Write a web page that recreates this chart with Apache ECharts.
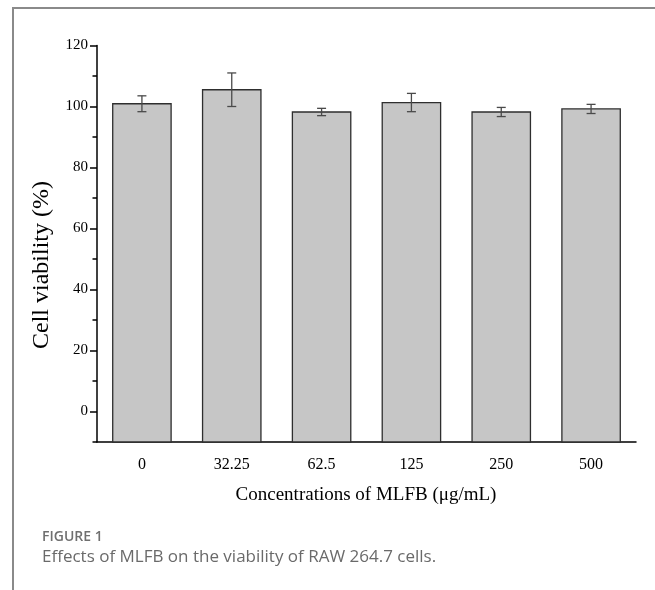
<!DOCTYPE html>
<html>
<head>
<meta charset="utf-8">
<script src="https://cdn.jsdelivr.net/npm/echarts@6/dist/echarts.min.js"></script>
<style>
  html, body { margin: 0; padding: 0; background: #fff; }
  #chart { width: 655px; height: 590px; }
</style>
</head>
<body>
<div id="chart"></div>
<script>
// data
const categories = ['0', '32.25', '62.5', '125', '250', '500'];
const viability = [100.9, 105.5, 98.2, 101.3, 98.2, 99.2];
const errors = [2.6, 5.5, 1.2, 3.0, 1.5, 1.5];
const yMin = -10, yMax = 120, yLabelStep = 20, yMinorStep = 10;

const serif = '"Liberation Serif", "Times New Roman", serif';
const rows = categories.map(function (c, i) { return [i, viability[i], errors[i]]; });

function renderBar(params, api) {
  const i = api.value(0);
  const top = api.coord([i, api.value(1)]);
  const base = api.coord([i, yMin]);
  const w = api.size([1, 0])[0] * 0.65;
  return {
    type: 'rect',
    shape: { x: top[0] - w / 2, y: top[1], width: w, height: base[1] - top[1] },
    style: { fill: '#c6c6c6', stroke: '#2e2e2e', lineWidth: 1.3 }
  };
}

function renderErr(params, api) {
  const i = api.value(0), m = api.value(1), e = api.value(2);
  const hi = api.coord([i, m + e]);
  const lo = api.coord([i, m - e]);
  const cap = 4.5;
  const st = { stroke: '#4a4a4a', lineWidth: 1.3 };
  return {
    type: 'group',
    children: [
      { type: 'line', shape: { x1: hi[0], y1: hi[1], x2: lo[0], y2: lo[1] }, style: st },
      { type: 'line', shape: { x1: hi[0] - cap, y1: hi[1], x2: hi[0] + cap, y2: hi[1] }, style: st },
      { type: 'line', shape: { x1: lo[0] - cap, y1: lo[1], x2: lo[0] + cap, y2: lo[1] }, style: st }
    ]
  };
}

const axisLineStyle = { color: '#000', width: 1.5 };

const chart = echarts.init(document.getElementById('chart'));
chart.setOption({
  animation: false,
  grid: [
    { left: 97, right: 19, top: 45.5, bottom: 148 },
    // second grid only carries the labelled (major) y ticks, 0..120
    { left: 97, right: 19, top: 45.5, bottom: 178.5 }
  ],
  xAxis: [
    {
      type: 'category', gridIndex: 0, data: categories, position: 'bottom',
      axisLine: { onZero: false, lineStyle: axisLineStyle },
      axisTick: { alignWithLabel: true, length: 8, lineStyle: axisLineStyle },
      axisLabel: { margin: 15, fontFamily: serif, fontSize: 16, color: '#000' },
      splitLine: { show: false }
    },
    {
      type: 'category', gridIndex: 0, data: categories, position: 'bottom',
      axisLine: { show: false, onZero: false },
      axisTick: { length: 5, lineStyle: axisLineStyle },
      axisLabel: { show: false },
      splitLine: { show: false }
    },
    { type: 'category', gridIndex: 1, data: categories, show: false }
  ],
  yAxis: [
    {
      type: 'value', gridIndex: 0, min: yMin, max: yMax, interval: yMinorStep,
      axisLine: { show: true, onZero: false, lineStyle: axisLineStyle },
      axisTick: { show: true, length: 4.5, lineStyle: axisLineStyle },
      axisLabel: { show: false },
      splitLine: { show: false }
    },
    {
      type: 'value', gridIndex: 1, min: 0, max: yMax, interval: yLabelStep,
      axisLine: { show: false },
      axisTick: { show: true, length: 7, lineStyle: axisLineStyle },
      axisLabel: { margin: 9, fontFamily: serif, fontSize: 15, color: '#000' },
      splitLine: { show: false }
    }
  ],
  series: [
    {
      type: 'custom', xAxisIndex: 0, yAxisIndex: 0,
      renderItem: renderBar, encode: { x: 0, y: 1 }, data: rows
    },
    {
      type: 'custom', xAxisIndex: 0, yAxisIndex: 0,
      renderItem: renderErr, encode: { x: 0, y: 1 }, data: rows
    }
  ],
  graphic: [
    { type: 'line', shape: { x1: 13, y1: 8, x2: 13, y2: 590 }, style: { stroke: '#8a8a8a', lineWidth: 2 } },
    { type: 'line', shape: { x1: 12, y1: 8, x2: 655, y2: 8 }, style: { stroke: '#8a8a8a', lineWidth: 2 } },
    {
      type: 'text', x: 42, y: 265, rotation: Math.PI / 2,
      style: { text: 'Cell viability (%)', fontFamily: serif, fontSize: 24, fill: '#000', align: 'center', verticalAlign: 'middle' }
    },
    {
      type: 'text', x: 366, y: 495,
      style: { text: 'Concentrations of MLFB (\u03bcg/mL)', fontFamily: serif, fontSize: 19, fill: '#000', align: 'center', verticalAlign: 'middle' }
    },
    {
      type: 'text', x: 42, y: 537,
      style: { text: 'FIGURE 1', fontFamily: '"Open Sans", sans-serif', fontSize: 14, fontWeight: 600, fill: '#6f6f6f', verticalAlign: 'middle' }
    },
    {
      type: 'text', x: 42, y: 557,
      style: { text: 'Effects of MLFB on the viability of RAW 264.7 cells.', fontFamily: '"Open Sans", sans-serif', fontSize: 17, fill: '#6a6a6a', verticalAlign: 'middle' }
    }
  ]
});

window.addEventListener('resize', function () { chart.resize(); });
</script>
</body>
</html>
